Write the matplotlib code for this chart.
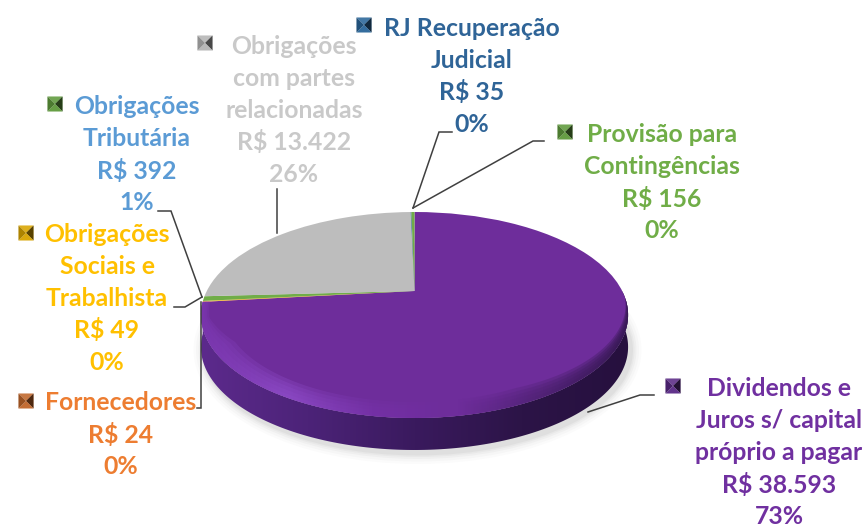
import numpy as np
import matplotlib.pyplot as plt
from matplotlib.patches import Ellipse, Polygon
from matplotlib.transforms import Transform
from matplotlib.colors import LinearSegmentedColormap

plt.rcParams["font.family"] = ["Lato", "DejaVu Sans"]

categories = ["Dividendos e\nJuros s/ capital\npróprio a pagar", "Fornecedores",
              "Obrigações\nSociais e\nTrabalhista", "Obrigações\nTributária",
              "Obrigações\ncom partes\nrelacionadas", "RJ Recuperação\nJudicial",
              "Provisão para\nContingências"]
values = [38593, 24, 49, 392, 13422, 35, 156]
value_labels = ["R$ 38.593", "R$ 24", "R$ 49", "R$ 392", "R$ 13.422", "R$ 35", "R$ 156"]
pct_labels = ["73%", "0%", "0%", "1%", "26%", "0%", "0%"]
slice_colors = ["#6E2D9B", "#ED7D31", "#FFC000", "#70AD47", "#BDBDBD", "#255E91", "#70AD47"]
text_colors = ["#7030A0", "#ED7D31", "#FFC000", "#5B9BD5", "#C9C9C9", "#2F6497", "#70AD47"]
key_colors = ["#5A2A86", "#C0662A", "#D9A400", "#5F9A3C", "#B5B5B5", "#2A6699", "#5F9A3C"]

W, H = 868, 530
cx, cy, a, b, k, depth = 414.5, 291, 207.7, 97.4, 0.233, 32


def project(u, v):
    # unit disc to pixels, far side of the pie is squeezed
    w = 1 + k * v
    return cx + a * u / w, cy - b * v / w


class Persp(Transform):
    input_dims = output_dims = 2
    is_affine = False

    def transform_non_affine(self, values):
        pts = np.asarray(values)
        return np.column_stack(project(pts[:, 0], pts[:, 1]))


def ring(t, r):
    return np.column_stack(project(r * np.cos(t), r * np.sin(t)))


fig = plt.figure(figsize=(W / 100, H / 100), dpi=100)
ov = fig.add_axes([0, 0, 1, 1])
ov.axis("off")

wedges, _ = ov.pie(values, colors=slice_colors, startangle=90, counterclock=False, radius=1,
                   wedgeprops={"linewidth": 0, "zorder": 4})
for w in wedges:
    w.set_transform(Persp() + ov.transData)

# shadow under the pie
for grow, al in zip([20, 15, 10, 6, 3], [0.03, 0.04, 0.05, 0.06, 0.08]):
    ov.add_patch(Ellipse((cx + 3, 316 + depth + 2), 2 * 214 + grow, 2 * 104 + grow,
                         color="#808080", alpha=al, lw=0, zorder=1))


def gradient_fill(verts, stops, zorder, alpha=1.0):
    poly = Polygon(verts, closed=True, fc="none", ec="none", transform=ov.transData)
    ov.add_patch(poly)
    cmap = LinearSegmentedColormap.from_list("g", stops)
    img = ov.imshow(np.linspace(0, 1, 256)[None, :], cmap=cmap, aspect="auto", alpha=alpha,
                    extent=(201, 629, H, 0), zorder=zorder)
    img.set_clip_path(poly)


# side wall of the purple slice
end = 90 - 360 * values[0] / sum(values)
t_wall = np.radians(np.linspace(end, 0, 240))
front = ring(t_wall, 1.0)
wall = np.vstack([front, front[::-1] + [0, depth]])
gradient_fill(wall, ["#5C2A8C", "#4C2378", "#3A1A5E", "#2C1447", "#26103E"], 3)

# soft bevel along the front edge, narrowing towards both ends
deg = np.linspace(end, -4, 240)
t_rim = np.radians(deg)
taper = np.clip((-4 - deg) / 60, 0, 1) * np.clip((deg - end) / 25, 0.35, 1)
rim_stops = ["#7B37B0", "#8E4CC8", "#7632A8", "#6E2D9B", "#4E2272", "#32174E"]
rim_out = ring(t_rim, 1.0)
for frac in [1.0, 0.8, 0.6, 0.4, 0.2]:
    inner = np.column_stack(project((1 - 0.1 * frac * taper) * np.cos(t_rim),
                                    (1 - 0.1 * frac * taper) * np.sin(t_rim)))
    gradient_fill(np.vstack([rim_out, inner[::-1]]), rim_stops, 5, alpha=0.35)

ov.set_aspect("auto")
ov.set_xlim(0, W)
ov.set_ylim(H, 0)

label_pos = [(779, 389), (121, 403), (107, 234), (137, 107), (294, 46), (472, 28), (662, 135)]
key_pos = [(673, 386), (26, 401), (26, 233), (55, 104), (205, 43), (364, 25), (565, 132)]
line_h = 32

for i, name in enumerate(categories):
    lines = name.split("\n") + [value_labels[i], pct_labels[i]]
    x, y = label_pos[i]
    for j, ln in enumerate(lines):
        ov.text(x, y + j * line_h, ln, color=text_colors[i], fontsize=17.8, fontweight="bold",
                ha="center", va="center", zorder=7)
    kx, ky = key_pos[i]
    s = 7.5
    c = key_colors[i]
    corners = [(kx - s, ky - s), (kx + s, ky - s), (kx + s, ky + s), (kx - s, ky + s)]
    # top, right, bottom, left faces of the little pyramid
    shades = ["#FFFFFF", "#000000", "#FFFFFF", "#000000"]
    alphas = [0.12, 0.6, 0.05, 0.2]
    for q in range(4):
        tri = [corners[q], corners[(q + 1) % 4], (kx, ky)]
        ov.add_patch(Polygon(tri, fc=c, ec="none", zorder=7))
        ov.add_patch(Polygon(tri, fc=shades[q], alpha=alphas[q], ec="none", zorder=7))

leaders = [
    ([588, 640, 654], [412, 395, 395]),
    ([197, 201, 201], [408, 408, 302]),
    ([174, 185, 202], [307, 307, 297]),
    ([158, 171, 202], [211, 211, 297]),
    ([277, 277], [189, 233]),
    ([413, 439, 452], [208, 132, 132]),
    ([413, 533, 544], [208, 141, 141]),
]
for lx, ly in leaders:
    ov.plot(lx, ly, color="#404040", lw=1.1, solid_joinstyle="miter", zorder=6)

fig.savefig("out.png", dpi=100)
